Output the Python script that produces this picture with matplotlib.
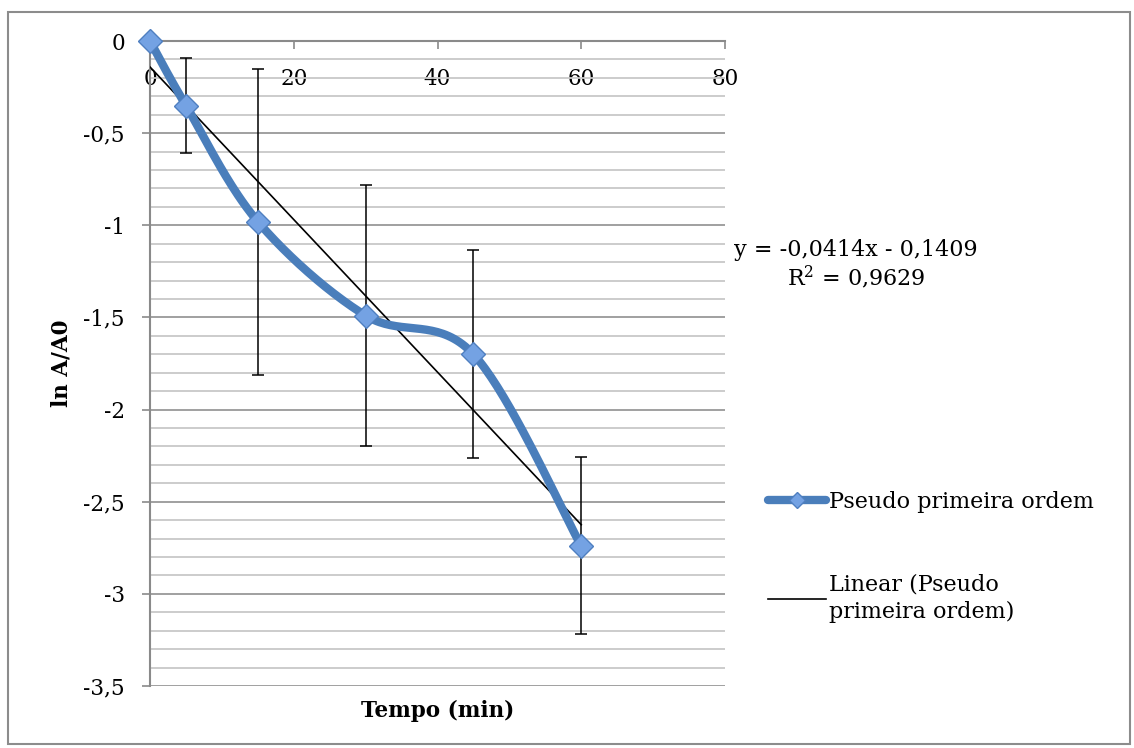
import numpy as np
import matplotlib
matplotlib.use("Agg")
import matplotlib.pyplot as plt
from matplotlib.patches import Rectangle
from matplotlib.lines import Line2D

# data
tempo = [0, 5, 15, 30, 45, 60]
ln_ratio = [0.0, -0.35, -0.98, -1.49, -1.70, -2.74]
err = [0.0, 0.26, 0.83, 0.71, 0.565, 0.48]
slope, intercept = -0.0414, -0.1409
eq_text = "y = -0,0414x - 0,1409\nR$^2$ = 0,9629"
series_label = "Pseudo primeira ordem"
trend_label = "Linear (Pseudo\nprimeira ordem)"
xticks = [0, 20, 40, 60, 80]
yticks = [0, -0.5, -1, -1.5, -2, -2.5, -3, -3.5]

plt.rcParams['font.family'] = ['DejaVu Serif']
plt.rcParams['mathtext.fontset'] = 'dejavuserif'
FS = 15.5
FS2 = 16

def smooth(xs, ys, n=40):
    P = np.column_stack([xs, ys]).astype(float)
    P = np.vstack([P[0], P, P[-1]])
    out = []
    for i in range(1, len(P) - 2):
        p0, p1, p2, p3 = P[i - 1], P[i], P[i + 1], P[i + 2]
        c1 = p1 + (p2 - p0) / 6.0
        c2 = p2 - (p3 - p1) / 6.0
        t = np.linspace(0, 1, n)[:, None]
        b = (1 - t) ** 3 * p1 + 3 * (1 - t) ** 2 * t * c1 + 3 * (1 - t) * t ** 2 * c2 + t ** 3 * p2
        out.append(b if i == 1 else b[1:])
    B = np.vstack(out)
    return B[:, 0], B[:, 1]

W, H = 1134, 748
fig = plt.figure(figsize=(W / 100, H / 100), dpi=100)
ax = fig.add_axes([150 / W, 1 - 686 / H, (725 - 150) / W, (686 - 41) / H])

blue = '#4a7ebb'
mfill = '#74a2e3'

ax.set_xlim(0, 80)
ax.set_ylim(-3.5, 0)

# grid
ax.set_yticks(yticks)
ax.set_yticks(np.arange(-3.5, 0.001, 0.1), minor=True)
ax.yaxis.grid(True, which='minor', color='#c8c8c8', lw=1.3, zorder=0)
ax.yaxis.grid(True, which='major', color='#a0a0a0', lw=1.4, zorder=0)
ax.set_axisbelow(True)

ax.set_yticklabels([f"{v:g}".replace('.', ',') for v in yticks], fontsize=FS)
ax.tick_params(axis='y', which='major', direction='out', length=6, width=1.2, color='#8a8a8a', pad=12)
ax.tick_params(axis='y', which='minor', length=0)

ax.set_xticks(xticks)
ax.set_xticklabels([str(v) for v in xticks], fontsize=FS)
ax.xaxis.set_ticks_position('top')
ax.tick_params(axis='x', direction='in', length=6, width=1.2, color='#8a8a8a',
               top=True, bottom=False, labeltop=True, labelbottom=False, pad=-35)

for s in ['right', 'bottom']:
    ax.spines[s].set_visible(False)
for s in ['left', 'top']:
    ax.spines[s].set_color('#8a8a8a')
    ax.spines[s].set_linewidth(1.5)

# trendline
xt = np.array([min(tempo), max(tempo)])
ax.plot(xt, slope * xt + intercept, color='black', lw=1.2, zorder=4)

# error bars
ax.errorbar(tempo, ln_ratio, yerr=err, fmt='none', ecolor='black', elinewidth=1.1,
            capsize=4.5, capthick=1.1, zorder=3)

# smooth series
sx, sy = smooth(tempo, ln_ratio)
ax.plot(sx, sy, color=blue, lw=6, solid_capstyle='round', zorder=5, clip_on=False)
ax.plot(tempo, ln_ratio, linestyle='none', marker='D', markersize=12.5, markerfacecolor=mfill,
        markeredgecolor='#4f7fc0', markeredgewidth=1.0, zorder=6, clip_on=False)

ax.set_xlabel('Tempo (min)', fontsize=FS, fontweight='bold')
ax.xaxis.set_label_position('bottom')
ax.xaxis.labelpad = 10
ax.set_ylabel('ln A/A0', fontsize=FS, fontweight='bold', labelpad=8)

fig.text(856 / W, 1 - 265 / H, eq_text, ha='center', va='center', fontsize=FS2, linespacing=1.15)

h1 = Line2D([], [], color=blue, lw=6, solid_capstyle='round', marker='D', markersize=8,
            markerfacecolor=mfill, markeredgecolor='#4f7fc0')
h2 = Line2D([], [], color='black', lw=1.2)
fig.legend([h1, h2], [series_label, trend_label], loc='upper left',
           bbox_to_anchor=(748 / W, 1 - 471 / H), frameon=False,
           handlelength=2.6, handletextpad=0.15, labelspacing=2.7, prop={'size': FS2})
for t in fig.legends[0].get_texts():
    t.set_linespacing(1.35)

fig.add_artist(Rectangle((8 / W, 4 / H), (1130 - 8) / W, (736 - 4) / H, transform=fig.transFigure,
                         fill=False, edgecolor='#8c8c8c', lw=1.5))

fig.savefig('out.png', dpi=100)
